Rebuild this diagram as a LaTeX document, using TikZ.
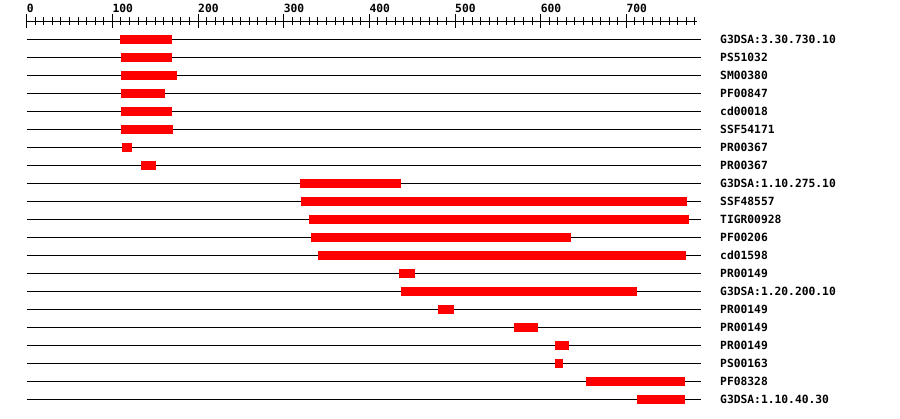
\documentclass[tikz,border=0pt]{standalone}
\usepackage{fontspec}
\setmonofont{DejaVu Sans Mono}
\begin{document}
\begin{tikzpicture}[x=1pt,y=-1pt,
  track/.style={line width=1pt,black},
  tickmark/.style={line width=1pt,black},
  barbox/.style={fill=red,draw=none},
  lbl/.style={font=\ttfamily\bfseries\fontsize{11.3}{12}\selectfont,anchor=base west,inner sep=0pt}]
\useasboundingbox[fill=white] (0,0) rectangle (900,418);
% ruler
\coordinate (r0) at (26.7,21);
\coordinate (r1) at (697,21);
\draw[tickmark] (r0) -- (r1);
\foreach \i in {0,...,78} {
  \pgfmathsetmacro\xx{26.7+8.566*\i}
  \draw[tickmark] (\xx,17) -- (\xx,25);
}
\foreach \r in {0,100,...,700} {
  \pgfmathsetmacro\xx{26.7+0.8566*\r}
  \draw[tickmark] (\xx,14) -- (\xx,28);
  \node[lbl] (t\r) at (\xx,12) {\r};
}
% tracks
\foreach \a/\b/\t [count=\i] in {
  120/172/G3DSA:3.30.730.10,
  121/172/PS51032,
  121/177/SM00380,
  121/165/PF00847,
  121/172/cd00018,
  121/173/SSF54171,
  122/132/PR00367,
  141/156/PR00367,
  300/401/G3DSA:1.10.275.10,
  301/687/SSF48557,
  309/689/TIGR00928,
  311/571/PF00206,
  318/686/cd01598,
  399/415/PR00149,
  401/637/G3DSA:1.20.200.10,
  438/454/PR00149,
  514/538/PR00149,
  555/569/PR00149,
  555/563/PS00163,
  586/685/PF08328,
  637/685/G3DSA:1.10.40.30} {
  \pgfmathsetmacro\yy{39.3+18*(\i-1)}
  \coordinate (s\i) at (26.7,\yy);
  \coordinate (e\i) at (701,\yy);
  \draw[track] (s\i) -- (e\i);
  \fill[barbox] (\a,\yy-4.5) rectangle (\b,\yy+4.5);
  \node[lbl] (l\i) at (720,\yy+4) {\t};
}
\end{tikzpicture}
\end{document}
